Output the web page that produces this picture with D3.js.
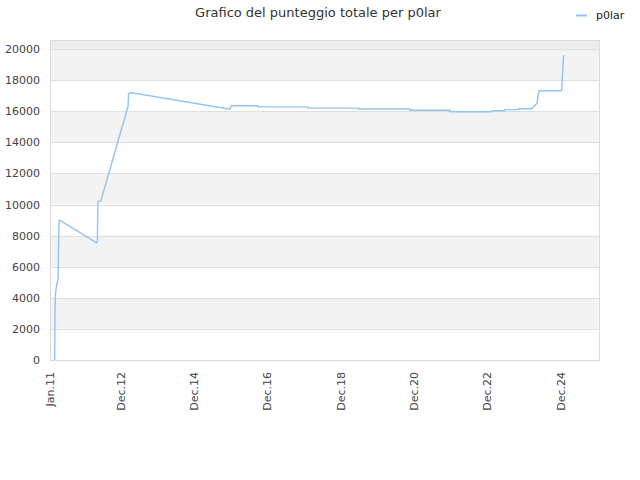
<!DOCTYPE html>
<html><head><meta charset="utf-8">
<script src="https://cdn.jsdelivr.net/npm/d3@7/dist/d3.min.js"></script>
<style>body{margin:0;background:#fff;}svg{display:block;font-family:"DejaVu Sans",sans-serif;}</style>
</head><body>
<svg id="c" width="640" height="480"></svg>
<script>
const title = "Grafico del punteggio totale per p0lar";
const seriesName = "p0lar";
const dates = ["2011-01-03","2011-01-05","2011-01-08","2011-01-11","2011-01-26","2011-02-05","2011-02-12","2011-02-15","2011-02-20",
  "2012-02-25","2012-03-03","2012-03-08","2012-04-07","2013-01-02","2013-01-07","2013-01-27",
  "2015-10-14","2015-10-29","2016-07-19","2016-07-20","2017-11-27","2017-11-28","2019-04-20","2019-04-21","2020-09-10","2020-09-11",
  "2021-10-13","2021-10-14","2022-12-03","2022-12-04","2023-04-13","2023-04-14","2023-08-22","2023-08-23","2024-01-10","2024-01-11",
  "2024-02-28","2024-03-09","2024-03-19","2024-10-30","2024-11-07","2024-11-18"];
const scores = [0,3000,3550,4300,4950,5200,7930,8900,9000,
  7540,7600,10180,10250,16300,17100,17200,
  16130,16350,16350,16290,16280,16200,16200,16140,16140,16060,
  16060,15970,15970,16030,16030,16100,16100,16160,16160,16220,
  16500,17000,17320,17320,18300,19600];
const xTickDates = ["2011-01-01","2012-12-01","2014-12-01","2016-12-01","2018-12-01","2020-12-01","2022-12-01","2024-12-01"];
const xTickLabels = ["Jan.11","Dec.12","Dec.14","Dec.16","Dec.18","Dec.20","Dec.22","Dec.24"];
const yTicks = [0,2000,4000,6000,8000,10000,12000,14000,16000,18000,20000];
const xDomain = ["2010-11-17","2025-11-16"];
const yMax = 20580;

const parse = d3.utcParse("%Y-%m-%d");
const data = dates.map((d,i)=>({t:parse(d), v:scores[i]}));
const svg = d3.select("#c");
const L=50,R=600,T=40,B=360;
const x = d3.scaleUtc().domain(xDomain.map(parse)).range([L,R]);
const y = d3.scaleLinear().domain([0,yMax]).range([B,T]);

// bands
svg.append("rect").attr("x",L).attr("y",T).attr("width",R-L).attr("height",y(20000)-T).attr("fill","#ededed");
for(let i=0;i<yTicks.length-1;i++){
  const a=yTicks[i], b=yTicks[i+1];
  if(i%2===1) svg.append("rect").attr("x",L).attr("y",y(b)).attr("width",R-L).attr("height",y(a)-y(b)).attr("fill","#f3f3f3");
}
// grid
svg.append("g").selectAll("line").data(yTicks).join("line")
  .attr("x1",L).attr("x2",R).attr("y1",d=>Math.round(y(d))+0.5).attr("y2",d=>Math.round(y(d))+0.5)
  .attr("stroke","#dedede").attr("stroke-width",1);
// border
svg.append("rect").attr("x",L+0.5).attr("y",T+0.5).attr("width",R-L-1).attr("height",B-T).attr("fill","none").attr("stroke","#dadada");

// y axis
const ya = svg.append("g").attr("transform",`translate(${L},0)`).call(d3.axisLeft(y).tickValues(yTicks).tickSize(0).tickPadding(10).tickFormat(d3.format("d")));
ya.select(".domain").remove();
ya.selectAll("text").attr("font-size","11px").attr("fill","#444").attr("font-family","DejaVu Sans, sans-serif");
// x axis
const xa = svg.append("g").attr("transform",`translate(0,${B})`).call(d3.axisBottom(x).tickValues(xTickDates.map(parse)).tickSize(0).tickFormat((d,i)=>xTickLabels[i]));
xa.select(".domain").remove();
xa.selectAll("text").attr("font-size","11px").attr("fill","#444").attr("font-family","DejaVu Sans, sans-serif")
  .attr("text-anchor","end").attr("transform","rotate(-90)").attr("x",-12).attr("y",0).attr("dy","-0.05em").attr("dx","0");

// line
svg.append("path").datum(data).attr("fill","none").attr("stroke","#92c3f2").attr("stroke-width",1.4)
  .attr("d",d3.line().x(d=>x(d.t)).y(d=>y(d.v)));

// title
svg.append("text").attr("x",318).attr("y",17).attr("text-anchor","middle").attr("font-size","13px").attr("fill","#333").text(title);
// legend
svg.append("line").attr("x1",576).attr("x2",587).attr("y1",15.5).attr("y2",15.5).attr("stroke","#92c3f2").attr("stroke-width",2);
svg.append("text").attr("x",596).attr("y",19).attr("font-size","11px").attr("fill","#222").text(seriesName);
</script>
</body></html>
